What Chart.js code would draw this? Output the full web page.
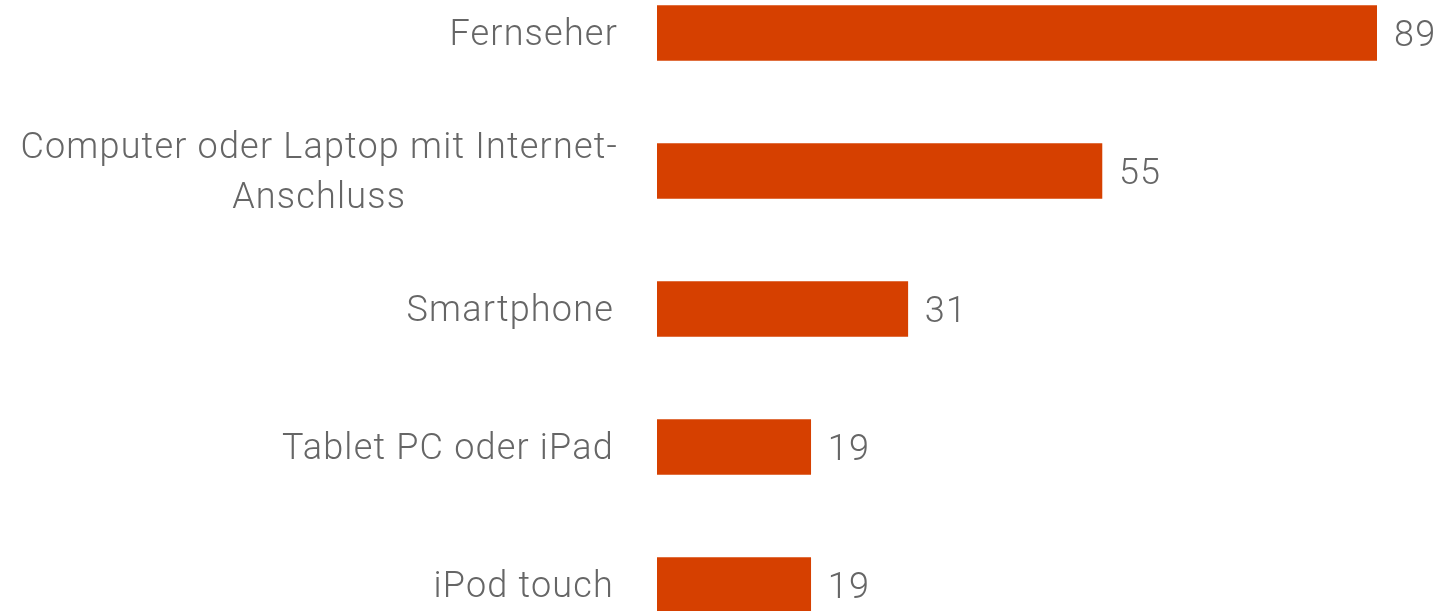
<!DOCTYPE html>
<html>
<head>
<meta charset="utf-8">
<script src="https://cdn.jsdelivr.net/npm/chart.js@4"></script>
<style>
  html, body { margin: 0; padding: 0; background: #fff; overflow: hidden; }
  #wrap { position: absolute; left: 0; top: -36px; width: 1439px; height: 690px; }
</style>
</head>
<body>
<div id="wrap"><canvas id="geraeteChart"></canvas></div>
<script>
const labels = [
    ['Fernseher'],
    ['Computer oder Laptop mit Internet-', 'Anschluss'],
    ['Smartphone'],
    ['Tablet PC oder iPad'],
    ['iPod touch']
];
const values = [89, 55, 31, 19, 19];

const FONT = '300 36px Roboto';
const TEXT_COLOR = '#666666';

// draws the category labels (multi-line centered within a right-aligned block) and the values
const labelPlugin = {
    id: 'labelPlugin',
    afterDatasetsDraw(chart) {
        const ctx = chart.ctx;
        const yScale = chart.scales.y;
        const meta = chart.getDatasetMeta(0);
        ctx.save();
        ctx.font = FONT;
        ctx.letterSpacing = '1.2px';
        ctx.fillStyle = TEXT_COLOR;
        ctx.textBaseline = 'middle';
        const lineHeight = 50;
        labels.forEach(function (lines, i) {
            const yc = yScale.getPixelForValue(i) + 3;
            const widths = lines.map(l => ctx.measureText(l).width);
            const blockW = Math.max.apply(null, widths);
            const right = i === 0 || lines.length > 1 ? 618 : 614;
            const cx = right - blockW / 2;
            ctx.textAlign = 'center';
            lines.forEach(function (l, j) {
                const y = yc + (j - (lines.length - 1) / 2) * lineHeight;
                ctx.fillText(l, cx, y);
            });
        });
        ctx.textAlign = 'left';
        meta.data.forEach(function (bar, i) {
            ctx.fillText(String(values[i]), bar.x + 17, bar.y + 4);
        });
        ctx.restore();
    }
};

new Chart(document.getElementById('geraeteChart').getContext('2d'), {
    type: 'bar',
    data: {
        labels: labels.map(l => l.join(' ')),
        datasets: [{
            data: values,
            backgroundColor: '#d64000',
            barThickness: 55
        }]
    },
    options: {
        indexAxis: 'y',
        responsive: true,
        maintainAspectRatio: false,
        animation: false,
        layout: { padding: { left: 657, right: 62, top: 0, bottom: 0 } },
        plugins: {
            legend: { display: false },
            tooltip: { enabled: false }
        },
        scales: {
            x: { display: false, min: 0, max: 89 },
            y: { display: false }
        }
    },
    plugins: [labelPlugin]
});
</script>
</body>
</html>
